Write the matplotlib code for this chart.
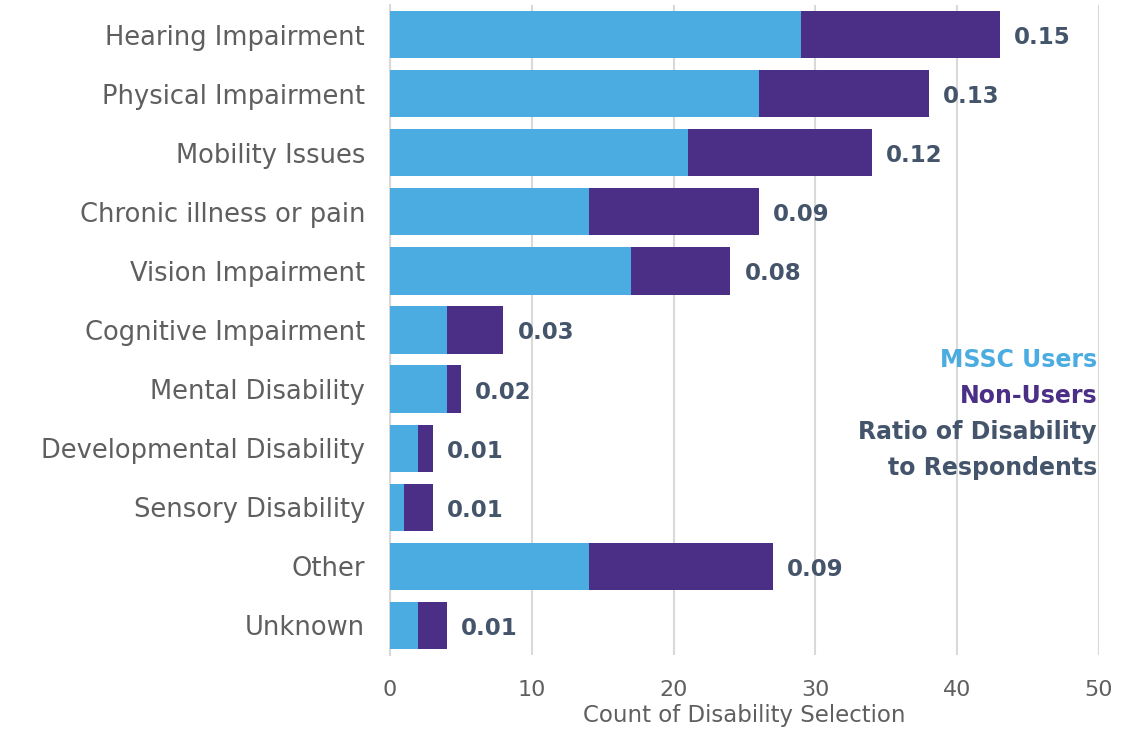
import matplotlib.pyplot as plt

categories = ["Hearing Impairment", "Physical Impairment", "Mobility Issues",
              "Chronic illness or pain", "Vision Impairment", "Cognitive Impairment",
              "Mental Disability", "Developmental Disability", "Sensory Disability",
              "Other", "Unknown"]
users = [29, 26, 21, 14, 17, 4, 4, 2, 1, 14, 2]
non_users = [14, 12, 13, 12, 7, 4, 1, 1, 2, 13, 2]
ratios = ["0.15", "0.13", "0.12", "0.09", "0.08", "0.03", "0.02", "0.01", "0.01", "0.09", "0.01"]

USER_COLOR = "#4AACE0"
NON_COLOR = "#4B2E85"
RATIO_COLOR = "#44546A"
GRAY = "#5F5F5F"

plt.rcParams["font.family"] = ["DejaVu Sans"]

fig = plt.figure(figsize=(11.26, 7.36), dpi=100)
ax = fig.add_axes([390 / 1126, 1 - 655 / 736, (1099 - 390) / 1126, 650 / 736])

y = list(range(len(categories)))
ax.barh(y, users, height=0.8, color=USER_COLOR, zorder=3)
ax.barh(y, non_users, left=users, height=0.8, color=NON_COLOR, zorder=3)

for i, (u, n, r) in enumerate(zip(users, non_users, ratios)):
    ax.text(u + n + 1.0, i + 0.05, r, va="center", ha="left", fontsize=16.5,
            fontweight="bold", color=RATIO_COLOR)

ax.set_xlim(0, 50)
ax.set_ylim(len(categories) - 0.5, -0.5)
ax.set_yticks(y)
ax.set_yticklabels(categories, fontsize=18.5, color=GRAY)
ax.set_xticks(range(0, 51, 10))
ax.tick_params(axis="x", labelsize=16, labelcolor=GRAY, length=0, pad=18)
ax.tick_params(axis="y", length=0, pad=18)
ax.set_xlabel("Count of Disability Selection", fontsize=16.5, color=GRAY, labelpad=3)

ax.grid(axis="x", color="#D9D9D9", linewidth=1.5, zorder=0)
for side in ["top", "right", "bottom"]:
    ax.spines[side].set_visible(False)
ax.spines["left"].set_color("#D9D9D9")
ax.spines["left"].set_linewidth(1.5)

legend_lines = [("MSSC Users", USER_COLOR), ("Non-Users", NON_COLOR),
                ("Ratio of Disability", RATIO_COLOR), ("to Respondents", RATIO_COLOR)]
for k, (txt, col) in enumerate(legend_lines):
    fig.text(1097 / 1126, 1 - (360 + k * 36) / 736, txt, ha="right", va="center",
             fontsize=17, fontweight="bold", color=col)

fig.savefig("out.png", dpi=100)
